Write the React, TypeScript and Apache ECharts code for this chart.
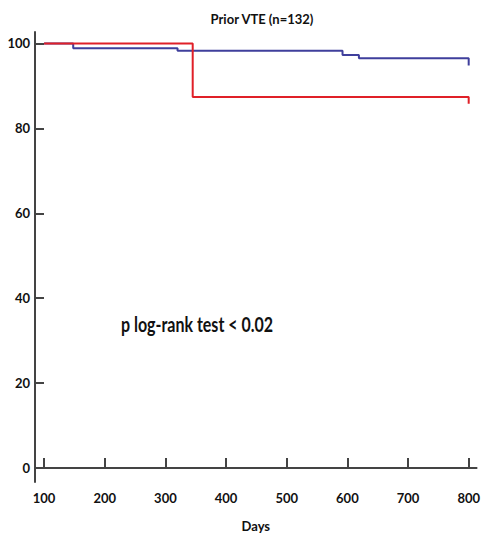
import React, { useEffect, useRef } from "react";
import * as echarts from "echarts";

const titleText = "Prior VTE (n=132)";
const annotation = "p log-rank test < 0.02";
const xTicks = [100, 200, 300, 400, 500, 600, 700, 800];
const yTicks = [0, 20, 40, 60, 80, 100];
// Kaplan-Meier step points [day, percent]
const blueDays = [100, 148, 320, 592, 619, 800, 800];
const blueVals = [100, 98.9, 98.3, 97.3, 96.5, 96.5, 94.8];
const redDays = [100, 345, 800, 800];
const redVals = [100, 87.4, 87.4, 85.8];

const FONT = "Lato, 'Open Sans', sans-serif";

export default function App() {
  const ref = useRef<HTMLDivElement>(null);
  useEffect(() => {
    const chart = echarts.init(ref.current!, null, { renderer: "svg" });
    const axisColor = "#444";
    chart.setOption({
      animation: false,
      backgroundColor: "#fff",
      title: {
        text: titleText,
        left: 257,
        top: 7,
        textAlign: "center",
        textStyle: { fontFamily: FONT, fontWeight: "bold", fontSize: 13, color: "#111" },
      },
      grid: { left: 35, right: 5, top: 32, bottom: 58 },
      xAxis: {
        type: "value",
        min: 85,
        max: 813,
        name: "Days",
        nameLocation: "middle",
        nameGap: 37,
        nameTextStyle: { fontFamily: FONT, fontWeight: "bold", fontSize: 13, color: "#111" },
        axisLine: { lineStyle: { color: axisColor, width: 2 } },
        axisTick: { inside: true, length: 10, customValues: xTicks, lineStyle: { color: axisColor, width: 2 } },
        axisLabel: { customValues: xTicks, margin: 9, fontFamily: FONT, fontWeight: "bold", fontSize: 13, color: "#111" },
        splitLine: { show: false },
      },
      yAxis: {
        type: "value",
        min: -3.3,
        max: 102.7,
        axisLine: { show: true, lineStyle: { color: axisColor, width: 2 } },
        axisTick: { show: true, inside: true, length: 9, customValues: yTicks, lineStyle: { color: axisColor, width: 2 } },
        axisLabel: { customValues: yTicks, margin: 5, fontFamily: FONT, fontWeight: "bold", fontSize: 13, color: "#111" },
        splitLine: { show: false },
      },
      graphic: [
        {
          type: "text",
          x: 121,
          y: 314,
          scaleX: 0.8,
          style: { text: annotation, fontFamily: FONT, fontWeight: "bold", fontSize: 20, fill: "#111" },
        },
      ],
      series: [
        {
          type: "line",
          step: "end",
          symbol: "none",
          lineStyle: { color: "#3f3f9c", width: 2 },
          data: blueDays.map((d, i) => [d, blueVals[i]]),
        },
        {
          type: "line",
          step: "end",
          symbol: "none",
          lineStyle: { color: "#e02028", width: 2 },
          data: redDays.map((d, i) => [d, redVals[i]]),
        },
      ],
    });
    return () => chart.dispose();
  }, []);
  return <div ref={ref} style={{ width: 483, height: 540, position: "absolute", left: 0, top: 0 }} />;
}
